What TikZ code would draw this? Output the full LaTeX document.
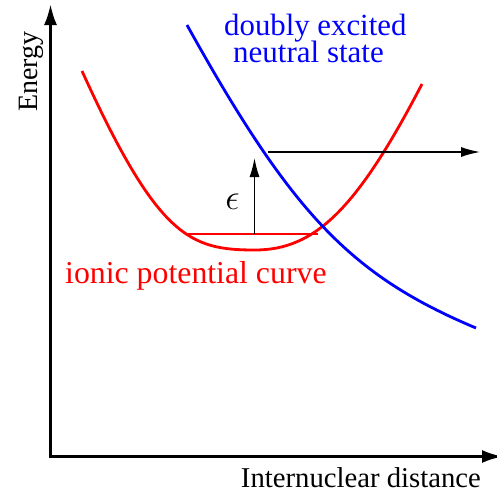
\documentclass[tikz,border=0pt]{standalone}
\usepackage{fontspec}
\setmainfont{Liberation Serif}
\usetikzlibrary{arrows.meta}
\begin{document}
\begin{tikzpicture}[x=1pt,y=-1pt,
  lbl/.style={inner sep=0pt},
  axis/.style={line width=3pt,-{Latex[length=21pt,width=13pt]}},
  thinarr/.style={line width=1.3pt,-{Latex[length=19pt,width=10pt]}},
  curve/.style={line width=2.8pt,line join=round}]
\useasboundingbox (0,0) rectangle (496,496);
\coordinate (O) at (50.5,456.5);
\coordinate (ytip) at (50.5,4);
\coordinate (xtip) at (503,456.5);
\draw[axis] (50.5,458) -- (ytip);
\draw[axis] (49,456.5) -- (xtip);
% red ionic curve
\coordinate (rL) at (82,71);
\coordinate (rM) at (255,250);
\coordinate (rR) at (422,84);
\draw[curve,red] (rL) .. controls (158,238) and (190,250) .. (rM)
                      .. controls (315,250) and (357,209) .. (rR);
\coordinate (lvlL) at (188,234);
\coordinate (lvlR) at (318,234);
\draw[red,line width=1.3pt] (lvlL) -- (lvlR);
% blue curve
\coordinate (bT) at (187,25);
\coordinate (bB) at (476,328);
\draw[curve,blue] (bT) .. controls (292,214) and (351,275.5) .. (bB);
% arrows
\coordinate (vb) at (254.5,234);
\coordinate (vt) at (254.5,158);
\draw[thinarr] (vb) -- (vt);
\coordinate (hs) at (268,152);
\coordinate (he) at (480,152);
\draw[thinarr] (hs) -- (he);
\node[inner sep=0pt,font=\fontsize{24}{24}\selectfont] (eps) at (232.5,202) {\scalebox{1.45}{$\epsilon$}};
% labels
\node[lbl,font=\fontsize{28}{30}\selectfont,rotate=90,anchor=base west] (en) at (37,112) {Energy};
\node[lbl,font=\fontsize{30.8}{32}\selectfont,blue,anchor=base west] (d1) at (224,35) {doubly excited};
\node[lbl,font=\fontsize{31}{32}\selectfont,blue,anchor=base west] (d2) at (233,62) {neutral state};
\node[lbl,font=\fontsize{31.8}{33}\selectfont,red,anchor=base west] (ion) at (65,283) {ionic potential curve};
\node[lbl,font=\fontsize{28.7}{30}\selectfont,anchor=base east] (xl) at (481,487) {Internuclear distance};
\end{tikzpicture}
\end{document}
